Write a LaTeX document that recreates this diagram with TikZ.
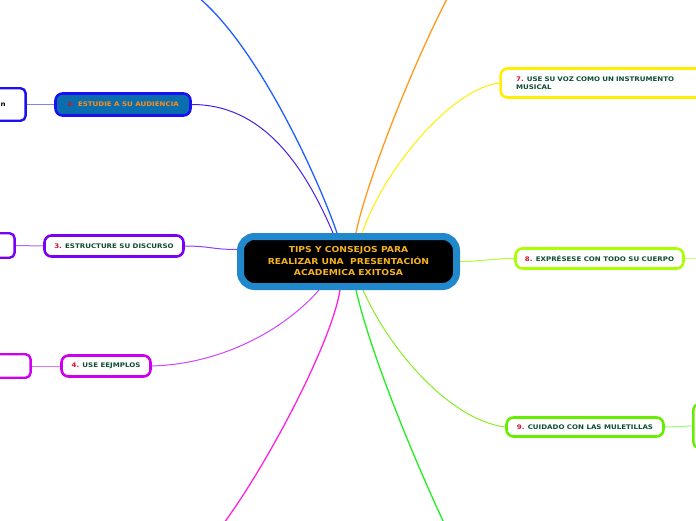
\documentclass[tikz,border=0pt]{standalone}
\usepackage{fontspec}
\usepackage{tikz}
\usetikzlibrary{backgrounds}
\newfontfamily\mapfont{DejaVu Sans}[FakeStretch=1.12]

\definecolor{ctrblue}{HTML}{2288CC}
\definecolor{ctrtext}{HTML}{F5B31C}
\definecolor{numred}{HTML}{D0102E}
\definecolor{topictext}{HTML}{0D4D33}
\definecolor{audfill}{HTML}{0A6EAE}
\definecolor{audtext}{HTML}{FF8C1A}
\definecolor{bluea}{HTML}{1A10F0}
\definecolor{purplea}{HTML}{7A00F5}
\definecolor{magentaa}{HTML}{CC00EE}
\definecolor{yellowa}{HTML}{FFEE00}
\definecolor{limea}{HTML}{AAFF00}
\definecolor{greena}{HTML}{66EE00}

\tikzset{
  topic/.style={draw, fill=white, line width=2.6pt, rounded corners=7pt,
    inner sep=0pt, text=topictext,
    font=\mapfont\bfseries\fontsize{6.3}{8.5}\selectfont},
  child/.style={draw, fill=white, line width=2.4pt, rounded corners=5pt,
    inner sep=0pt},
  branch/.style={line width=1pt},
}

\begin{document}
\begin{tikzpicture}[x=1pt,y=-1pt]
	\useasboundingbox (0,0) rectangle (696,520);
	% central topic
	\node (ctr) [draw=ctrblue, fill=black, line width=7pt, rounded corners=14pt,
	  minimum width=216pt, minimum height=50pt, inner sep=0pt, align=center,
	  text=ctrtext, font=\mapfont\bfseries\fontsize{8.2}{11.5}\selectfont]
	  at (348.5,261.5) {TIPS Y CONSEJOS PARA\\REALIZAR UNA \ PRESENTACI\'ON\\ACADEMICA EXITOSA};
	% left side
	\node (aud) [topic, draw=bluea, fill=audfill, text=audtext,
	  minimum width=135pt, minimum height=22pt] at (123,104.5)
	  {\textcolor{numred}{2.} ESTUDIE A SU AUDIENCIA};
	\node (audsub) [child, draw=bluea, anchor=east, text width=80pt, align=right,
	  inner xsep=20pt, minimum height=32.5pt,
	  font=\mapfont\bfseries\fontsize{6.3}{8.5}\selectfont] at (26.8,104.5) {n};
	\node (disc) [topic, draw=purplea, minimum width=139pt, minimum height=21pt]
	  at (114,246) {\textcolor{numred}{3.} ESTRUCTURE SU DISCURSO};
	\node (discsub) [child, draw=purplea, anchor=east, minimum width=80pt,
	  minimum height=24.5pt] at (15.8,245.5) {};
	\node (ejem) [topic, draw=magentaa, minimum width=89pt, minimum height=21pt]
	  at (106,366) {\textcolor{numred}{4.} USE EEJMPLOS};
	\node (ejemsub) [child, draw=magentaa, anchor=east, minimum width=80pt,
	  minimum height=23.5pt] at (31.8,366) {};
	% right side
	\node (voz) [topic, draw=yellowa, anchor=west, text width=200pt, align=left,
	  inner xsep=15.5pt, minimum height=29pt] at (499.3,83)
	  {\textcolor{numred}{7.} USE SU VOZ COMO UN INSTRUMENTO\\MUSICAL};
	\node (cuerpo) [topic, draw=limea, minimum width=168pt, minimum height=20pt]
	  at (599.5,258.5) {\textcolor{numred}{8.} EXPR\'ESESE CON TODO SU CUERPO};
	\node (mulet) [topic, draw=greena, minimum width=157pt, minimum height=19pt]
	  at (585,427) {\textcolor{numred}{9.} CUIDADO CON LAS MULETILLAS};
	\node (muletsub) [child, draw=greena, anchor=west, minimum width=80pt,
	  minimum height=43.5pt] at (692.2,426) {};
	% loose ends
	\coordinate (topl) at (198,-3);
	\coordinate (topr) at (448,-3);
	\coordinate (botl) at (224,523);
	\coordinate (botr) at (444,523);
	\coordinate (rightend) at (699,258.5);

	\begin{scope}[on background layer]
	\draw [branch, color={rgb,255:red,31;green,95;blue,255}, line width=1.3pt]
	  ([xshift=-11.5pt]ctr.north) .. controls +(-17,-50) and +(62,52) .. (topl);
	\draw [branch, color={rgb,255:red,75;green,30;blue,232}]
	  (aud.east) .. controls +(70,0) and +(-30,-70) .. ([xshift=-15.5pt]ctr.north);
	\draw [branch, color={rgb,255:red,255;green,154;blue,26}, line width=1.3pt]
	  ([xshift=7.5pt]ctr.north) .. controls +(9,-46) and +(-38,73) .. (topr);
	\draw [branch, color={rgb,255:red,255;green,238;blue,0}]
	  (voz.west) .. controls +(-45,5) and +(25,-70) .. ([xshift=13.5pt]ctr.north);
	\draw [branch, color={rgb,255:red,140;green,60;blue,255}]
	  (disc.east) .. controls +(25,0) and +(-25,0) .. ([yshift=12pt]ctr.west);
	\draw [branch, color={rgb,255:red,204;green,68;blue,255}]
	  (ejem.east) .. controls +(70,-2) and +(-35,40) .. ([xshift=-29.5pt]ctr.south);
	\draw [branch, color={rgb,255:red,255;green,34;blue,221}, line width=1.3pt]
	  ([xshift=-8.5pt]ctr.south) .. controls +(-8,51) and +(46,-63) .. (botl);
	\draw [branch, color={rgb,255:red,34;green,238;blue,34}, line width=1.3pt]
	  ([xshift=7.5pt]ctr.south) .. controls +(14,61) and +(-34,-73) .. (botr);
	\draw [branch, color={rgb,255:red,136;green,238;blue,34}]
	  ([xshift=14.5pt]ctr.south) .. controls +(27,61) and +(-55,-7) .. (mulet.west);
	\draw [branch, color={rgb,255:red,176;green,255;blue,48}]
	  (ctr.east) .. controls +(20,0) and +(-20,0) .. (cuerpo.west);
	\draw [branch, color={rgb,255:red,200;green,255;blue,120}] (cuerpo.east) -- (rightend);
	\draw [branch, color={rgb,255:red,150;green,255;blue,120}] (mulet.east) -- (muletsub.west);
	\draw [branch, color={rgb,255:red,128;green,128;blue,255}] (audsub.east) -- (aud.west);
	\draw [branch, color={rgb,255:red,170;green,102;blue,255}] (discsub.east) -- (disc.west);
	\draw [branch, color={rgb,255:red,221;green,119;blue,255}] (ejemsub.east) -- (ejem.west);
	\end{scope}
\end{tikzpicture}
\end{document}
